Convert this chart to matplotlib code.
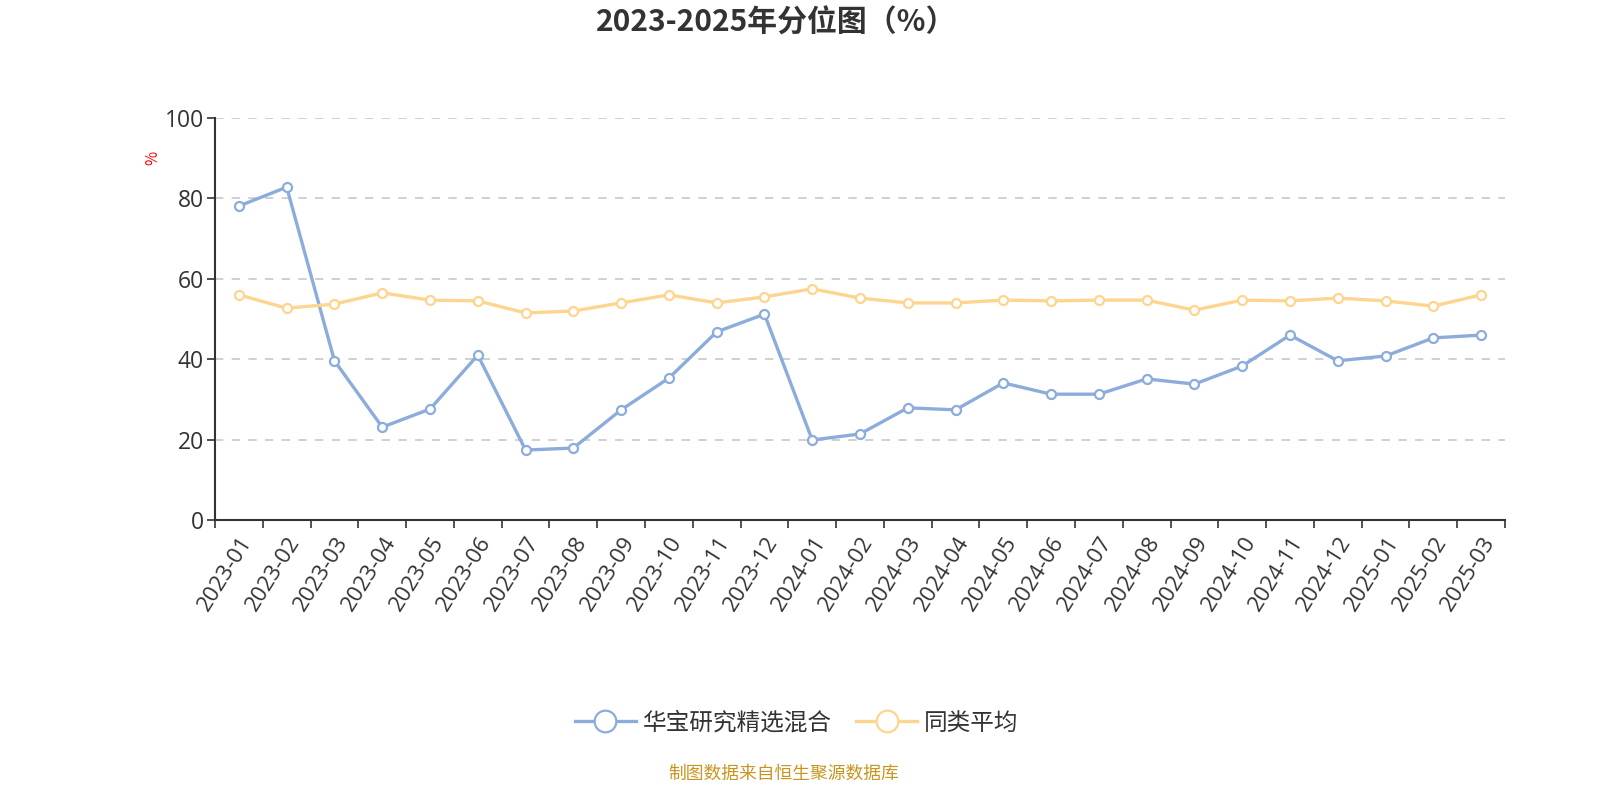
import numpy as np
import matplotlib.pyplot as plt

plt.rcParams['font.family'] = ['Noto Sans CJK SC', 'DejaVu Sans']

months = ['2023-01', '2023-02', '2023-03', '2023-04', '2023-05', '2023-06',
          '2023-07', '2023-08', '2023-09', '2023-10', '2023-11', '2023-12',
          '2024-01', '2024-02', '2024-03', '2024-04', '2024-05', '2024-06',
          '2024-07', '2024-08', '2024-09', '2024-10', '2024-11', '2024-12',
          '2025-01', '2025-02', '2025-03']
fund = [78.1, 82.8, 39.6, 23.1, 27.6, 41.0, 17.4, 17.9, 27.4, 35.3, 46.8, 51.2,
        19.9, 21.4, 27.9, 27.4, 34.1, 31.3, 31.3, 35.1, 33.8, 38.3, 46.0, 39.6,
        40.8, 45.3, 46.0]
peer = [56.0, 52.7, 53.7, 56.5, 54.7, 54.5, 51.5, 52.0, 54.0, 56.0, 54.0, 55.5,
        57.5, 55.2, 54.0, 54.0, 54.7, 54.5, 54.7, 54.7, 52.2, 54.7, 54.5, 55.2,
        54.5, 53.2, 56.0]
fund_name = '华宝研究精选混合'
peer_name = '同类平均'

blue = '#8cacdc'
orange = '#fdd58f'
dark = '#333333'
num_font = ['Open Sans', 'Noto Sans CJK SC']

fig = plt.figure(figsize=(16, 8), dpi=100)
ax = fig.add_axes([0.1344, 0.35, 0.8062, 0.5025])

x = np.arange(len(months))
ax.plot(x, fund, color=blue, lw=2.4, marker='o', ms=6.5, mfc='white',
        mec=blue, mew=1.6, label=fund_name, zorder=3)
ax.plot(x, peer, color=orange, lw=2.4, marker='o', ms=6.5, mfc='white',
        mec=orange, mew=1.6, label=peer_name, zorder=3)

ax.set_xlim(-0.5, len(months) - 0.5)
ax.set_ylim(0, 100)
ax.set_yticks([0, 20, 40, 60, 80, 100])
ax.set_yticklabels(['0', '20', '40', '60', '80', '100'], family=num_font,
                   fontsize=16.5, color=dark)
ax.tick_params(axis='y', length=6, width=1.2, color=dark, pad=2)
ax.set_xticks(x)
ax.set_xticklabels(months, rotation=58, ha='right', rotation_mode='anchor',
                   family=num_font, fontsize=16, color=dark)
ax.set_xticks(np.arange(len(months) + 1) - 0.5, minor=True)
ax.tick_params(axis='x', which='major', length=0, pad=9)
ax.tick_params(axis='x', which='minor', length=6, width=1.2, color=dark)

ax.grid(axis='y', color='#c8c8c8', ls=(0, (5, 5)), lw=1.2)
for s in ['top', 'right']:
    ax.spines[s].set_visible(False)
for s in ['left', 'bottom']:
    ax.spines[s].set_color(dark)
    ax.spines[s].set_linewidth(1.5)

fig.text(0.0955, 0.802, '%', color='red', fontsize=11, rotation=90,
         ha='center', va='center')
fig.text(0.485, 0.972, '2023-2025年分位图（%）', fontsize=21.5, fontweight='bold',
         color=dark, ha='center', va='center')

ax.legend(loc='center', bbox_to_anchor=(0.451, -0.505), ncol=2, frameon=False,
          fontsize=17, labelcolor=dark, handlelength=2.6, markerscale=2.4,
          columnspacing=1.0, handletextpad=0.3)

fig.text(0.49, 0.033, '制图数据来自恒生聚源数据库', fontsize=12.8, color='#c8961e',
         ha='center', va='center')

fig.savefig('out.png', dpi=100)
